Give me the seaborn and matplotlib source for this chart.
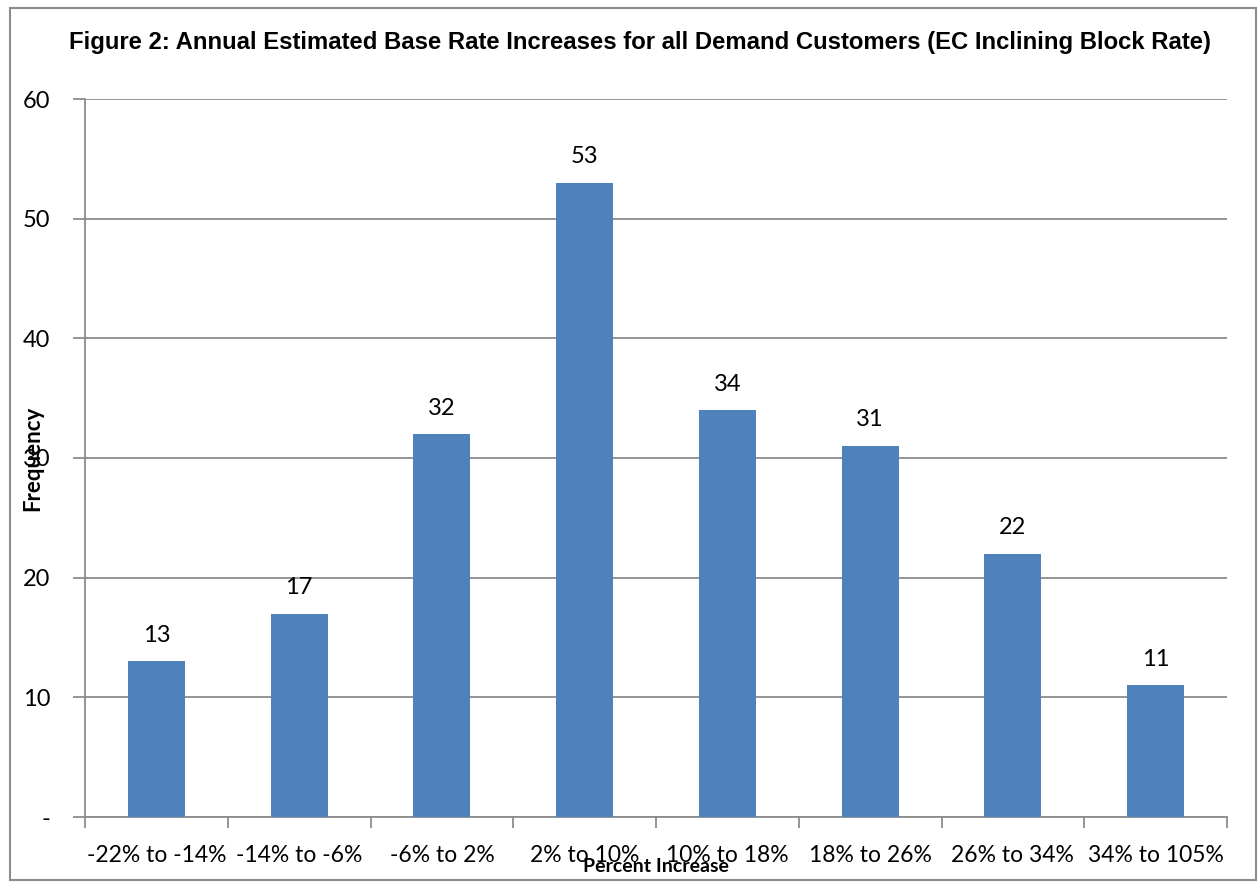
import matplotlib
matplotlib.use("Agg")
import matplotlib.pyplot as plt
import matplotlib.patches as mpatches
import seaborn as sns
import pandas as pd

categories = ["-22% to -14%", "-14% to -6%", "-6% to 2%", "2% to 10%",
              "10% to 18%", "18% to 26%", "26% to 34%", "34% to 105%"]
frequency = [13, 17, 32, 53, 34, 31, 22, 11]
y_ticks = [0, 10, 20, 30, 40, 50, 60]
y_tick_labels = ["-", "10", "20", "30", "40", "50", "60"]

title = "Figure 2: Annual Estimated Base Rate Increases for all Demand Customers (EC Inclining Block Rate)"

sns.set_theme(style="white")
plt.rcParams["font.family"] = ["Lato", "DejaVu Sans"]
plt.rcParams["text.color"] = "black"
plt.rcParams["xtick.labelcolor"] = "black"
plt.rcParams["ytick.labelcolor"] = "black"

df = pd.DataFrame({"range": categories, "freq": frequency})

fig = plt.figure(figsize=(12.59, 8.82), dpi=100)
W, H = 1259, 882
ax = fig.add_axes([85 / W, 1 - 817 / H, (1227 - 85) / W, (817 - 99) / H])

sns.barplot(data=df, x="range", y="freq", color="#4F81BD", saturation=1,
            width=0.4, linewidth=0, ax=ax, zorder=3)

ax.set_xlim(-0.5, len(categories) - 0.5)
ax.set_ylim(0, 60)
ax.set_yticks(y_ticks)
ax.set_yticklabels(y_tick_labels, fontsize=17)
ax.yaxis.grid(True, color="#8C8C8C", linewidth=1.3, zorder=0)
ax.set_axisbelow(True)

# category-boundary ticks on x, labels at bar centres
ax.set_xticks([i + 0.5 for i in range(-1, len(categories))], minor=True)
ax.set_xticks(range(len(categories)))
ax.set_xticklabels(categories, fontsize=16.5)
ax.tick_params(axis="x", which="major", length=0, pad=20)
ax.tick_params(axis="x", which="minor", length=8, width=1.3, color="#8C8C8C",
               direction="out", bottom=True)
ax.tick_params(axis="y", length=9, width=1.3, color="#8C8C8C",
               direction="out", left=True, pad=16)

for side in ["top", "right"]:
    ax.spines[side].set_visible(False)
for side in ["left", "bottom"]:
    ax.spines[side].set_color("#8C8C8C")
    ax.spines[side].set_linewidth(1.3)

for i, v in enumerate(frequency):
    ax.text(i, v + 1.3, str(v), ha="center", va="bottom", fontsize=17)

ax.set_xlabel("")
ax.set_ylabel("")
fig.text(33 / W, 1 - 458 / H, "Frequency", rotation=90, ha="center",
         va="center", fontsize=16, fontweight="bold")
fig.text(656 / W, 1 - 867 / H, "Percent Increase", ha="center",
         va="center", fontsize=14, fontweight="bold")
fig.text(640 / W, 1 - 42 / H, title, ha="center", va="center",
         fontsize=17.2, fontweight="bold", family=["Liberation Sans", "DejaVu Sans"])

# outer chart border
fig.patches.append(mpatches.Rectangle((10 / W, 2 / H), 1246 / W, 872 / H,
                                      transform=fig.transFigure, fill=False,
                                      edgecolor="#8C8C8C", linewidth=1.5))

fig.savefig("out.png", dpi=100)
